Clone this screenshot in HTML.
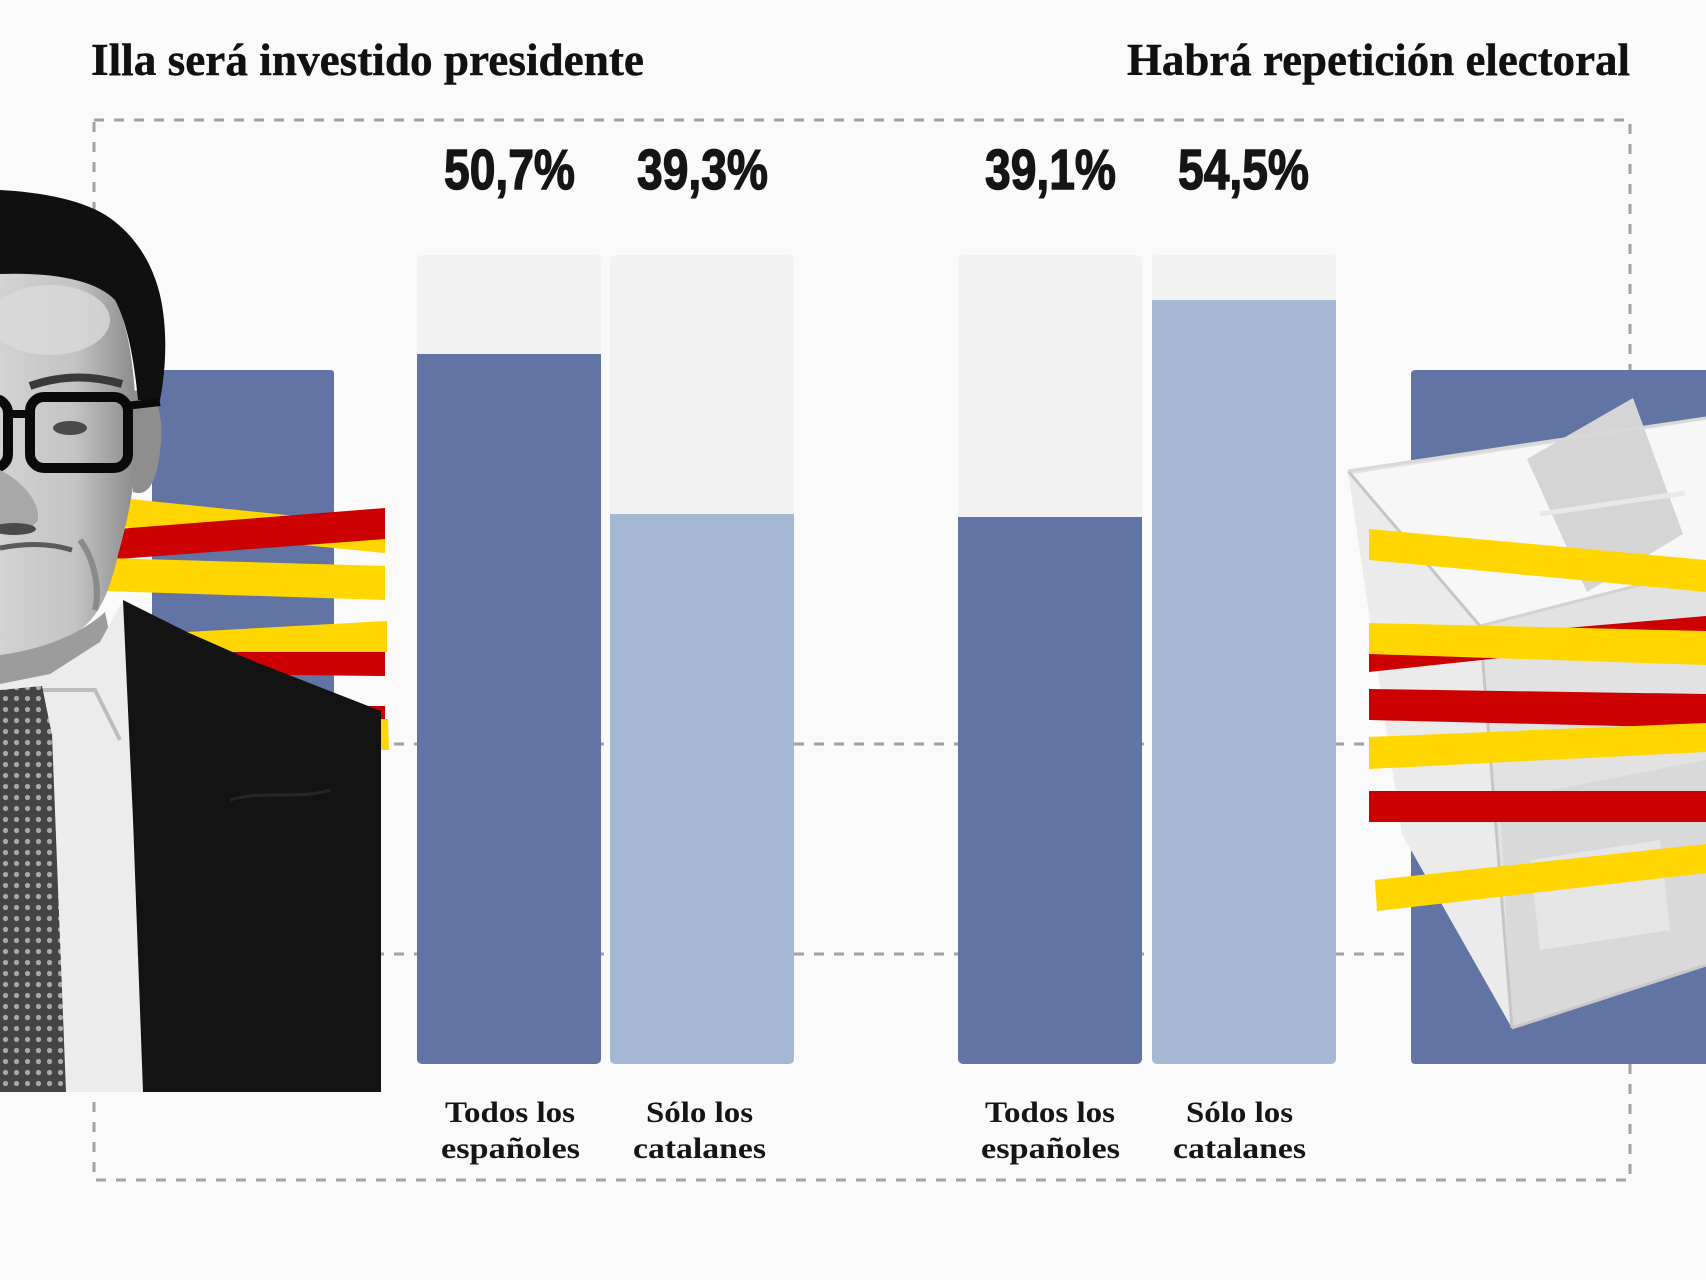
<!DOCTYPE html>
<html>
<head>
<meta charset="utf-8">
<style>
  html, body { margin:0; padding:0; background:#fafafa; }
  svg { display:block; }
  .ttl { font-family:"Liberation Serif", serif; font-weight:bold; fill:#111; stroke:#111; stroke-width:0.4; }
  .pct { font-family:"Liberation Sans", sans-serif; font-weight:bold; fill:#151515; stroke:#151515; stroke-width:1.4; }
  .lbl { font-family:"Liberation Serif", serif; font-weight:bold; fill:#151515; }
</style>
</head>
<body>
<svg width="1706" height="1280" viewBox="0 0 1706 1280" xmlns="http://www.w3.org/2000/svg">
  <defs>
    <clipPath id="cb1"><rect x="417" y="255" width="184" height="809" rx="5"/></clipPath>
    <clipPath id="cb2"><rect x="610" y="255" width="184" height="809" rx="5"/></clipPath>
    <clipPath id="cb3"><rect x="958" y="255" width="184" height="809" rx="5"/></clipPath>
    <clipPath id="cb4"><rect x="1152" y="255" width="184" height="809" rx="5"/></clipPath>
    <linearGradient id="faceg" x1="0" y1="0" x2="1" y2="0">
      <stop offset="0" stop-color="#d2d2d2"/>
      <stop offset="0.55" stop-color="#c4c4c4"/>
      <stop offset="1" stop-color="#8c8c8c"/>
    </linearGradient>
    <pattern id="tiep" x="0" y="0" width="11" height="11" patternUnits="userSpaceOnUse">
      <rect width="11" height="11" fill="#444"/>
      <circle cx="5.5" cy="5.5" r="2.6" fill="#a8a8a8"/>
    </pattern>
  </defs>

  <rect x="0" y="0" width="1706" height="1280" fill="#fafafa"/>

  <!-- titles -->
  <text class="ttl" x="91" y="75" font-size="45" textLength="553" lengthAdjust="spacingAndGlyphs">Illa será investido presidente</text>
  <text class="ttl" x="1127" y="75" font-size="45" textLength="503" lengthAdjust="spacingAndGlyphs">Habrá repetición electoral</text>

  <!-- dashed frame -->
  <rect x="94" y="120" width="1536" height="1060" fill="none" stroke="#a2a2a2" stroke-width="3" stroke-dasharray="10 10"/>
  <line x1="94" y1="744" x2="1630" y2="744" stroke="#a2a2a2" stroke-width="3" stroke-dasharray="10 10"/>
  <line x1="94" y1="954" x2="1630" y2="954" stroke="#a2a2a2" stroke-width="3" stroke-dasharray="10 10"/>

  <!-- bars -->
  <g clip-path="url(#cb1)">
    <rect x="417" y="255" width="184" height="809" fill="#f2f2f2"/>
    <rect x="417" y="354" width="184" height="710" fill="#6274a3"/>
  </g>
  <g clip-path="url(#cb2)">
    <rect x="610" y="255" width="184" height="809" fill="#f2f2f2"/>
    <rect x="610" y="514" width="184" height="550" fill="#a4b8d3"/>
  </g>
  <g clip-path="url(#cb3)">
    <rect x="958" y="255" width="184" height="809" fill="#f2f2f2"/>
    <rect x="958" y="517" width="184" height="547" fill="#6274a3"/>
  </g>
  <g clip-path="url(#cb4)">
    <rect x="1152" y="255" width="184" height="809" fill="#f2f2f2"/>
    <rect x="1152" y="300" width="184" height="764" fill="#a4b8d3"/>
  </g>

  <!-- percentages -->
  <text class="pct" x="444" y="189" font-size="57" textLength="131" lengthAdjust="spacingAndGlyphs">50,7%</text>
  <text class="pct" x="637" y="189" font-size="57" textLength="131" lengthAdjust="spacingAndGlyphs">39,3%</text>
  <text class="pct" x="985" y="189" font-size="57" textLength="131" lengthAdjust="spacingAndGlyphs">39,1%</text>
  <text class="pct" x="1178" y="189" font-size="57" textLength="131" lengthAdjust="spacingAndGlyphs">54,5%</text>

  <!-- bar labels -->
  <text class="lbl" x="445" y="1122" font-size="30" textLength="130" lengthAdjust="spacingAndGlyphs">Todos los</text>
  <text class="lbl" x="441" y="1158" font-size="30" textLength="139" lengthAdjust="spacingAndGlyphs">españoles</text>
  <text class="lbl" x="646" y="1122" font-size="30" textLength="107" lengthAdjust="spacingAndGlyphs">Sólo los</text>
  <text class="lbl" x="633" y="1158" font-size="30" textLength="133" lengthAdjust="spacingAndGlyphs">catalanes</text>
  <text class="lbl" x="985" y="1122" font-size="30" textLength="130" lengthAdjust="spacingAndGlyphs">Todos los</text>
  <text class="lbl" x="981" y="1158" font-size="30" textLength="139" lengthAdjust="spacingAndGlyphs">españoles</text>
  <text class="lbl" x="1186" y="1122" font-size="30" textLength="107" lengthAdjust="spacingAndGlyphs">Sólo los</text>
  <text class="lbl" x="1173" y="1158" font-size="30" textLength="133" lengthAdjust="spacingAndGlyphs">catalanes</text>

  <!-- LEFT: blue rect + stripes + portrait -->
  <rect x="152" y="370" width="182" height="694" rx="3" fill="#6274a3"/>
  <polygon points="110,497 385,525 385,553 110,526" fill="#ffd600"/>
  <polygon points="105,530 385,508 385,539 105,560" fill="#cc0000"/>
  <polygon points="105,558 385,566 385,600 105,591" fill="#ffd600"/>
  <polygon points="150,634 387,621 387,652 150,654" fill="#ffd600"/>
  <polygon points="200,652 385,652 385,676 200,674" fill="#cc0000"/>
  <polygon points="300,706 385,706 385,720 300,720" fill="#cc0000"/>
  <polygon points="300,719 388,719 389,750 300,750" fill="#ffd600"/>

  <!-- face -->
  <path d="M0,272 C40,268 90,276 112,295 C125,315 132,350 135,395 L135,470 C132,500 125,530 118,555 C110,590 100,615 80,630 C55,645 25,652 0,655 Z" fill="url(#faceg)"/>
  <ellipse cx="50" cy="320" rx="60" ry="35" fill="#dadada" opacity="0.8"/>
  <!-- ear -->
  <path d="M133,392 C150,382 164,405 161,442 C158,478 150,498 133,492 Z" fill="#8e8e8e"/>
  <!-- hair -->
  <path d="M0,190 C40,192 85,200 110,218 C135,236 152,262 160,295 C168,330 166,370 160,400 L138,400 C134,360 128,325 115,300 C98,282 60,272 0,274 Z" fill="#101010"/>
  <!-- eyebrow -->
  <path d="M30,386 Q75,370 122,384" fill="none" stroke="#3a3a3a" stroke-width="8"/>
  <!-- eye -->
  <ellipse cx="70" cy="428" rx="17" ry="7" fill="#4a4a4a"/>
  <!-- glasses -->
  <rect x="30" y="397" width="98" height="71" rx="14" fill="none" stroke="#0a0a0a" stroke-width="10"/>
  <rect x="-80" y="399" width="88" height="69" rx="14" fill="none" stroke="#0a0a0a" stroke-width="10"/>
  <line x1="8" y1="414" x2="30" y2="414" stroke="#0a0a0a" stroke-width="8"/>
  <line x1="126" y1="406" x2="160" y2="402" stroke="#0a0a0a" stroke-width="8"/>
  <!-- nose & mouth -->
  <path d="M0,470 C20,480 40,500 38,520 C30,532 10,534 0,532 Z" fill="#a8a8a8"/>
  <ellipse cx="14" cy="529" rx="22" ry="6" fill="#4a4a4a"/>
  <path d="M0,548 Q40,540 72,550" fill="none" stroke="#5a5a5a" stroke-width="5"/>
  <path d="M80,540 C95,560 100,590 95,610" fill="none" stroke="#8a8a8a" stroke-width="6"/>
  <!-- neck shadow -->
  <path d="M0,655 C40,650 80,635 105,612 L112,645 C90,682 40,692 0,694 Z" fill="#9c9c9c"/>
  <!-- shirt -->
  <polygon points="0,684 50,674 100,642 123,600 128,700 143,1092 0,1092" fill="#ececec"/>
  <path d="M40,690 L95,690 L120,740" fill="none" stroke="#bdbdbd" stroke-width="4"/>
  <!-- tie -->
  <polygon points="0,690 42,686 52,735 66,1092 0,1092" fill="url(#tiep)"/>
  <!-- suit -->
  <polygon points="123,600 187,632 253,661 381,711 381,1092 143,1092 133,820" fill="#131313"/>
  <path d="M230,800 C260,790 300,800 330,790" fill="none" stroke="#262626" stroke-width="3"/>

  <!-- RIGHT: blue rect + ballot box + stripes -->
  <rect x="1411" y="370" width="310" height="694" rx="4" fill="#6274a3"/>
  <polygon points="1348,471 1706,418 1706,965 1512,1028 1402,834" fill="#e2e2e2"/>
  <polygon points="1352,474 1706,420 1706,566 1480,626" fill="#f7f7f7"/>
  <polygon points="1527,459 1633,398 1683,534 1587,592" fill="#d5d5d5"/>
  <line x1="1540" y1="514" x2="1685" y2="493" stroke="#e8e8e8" stroke-width="5"/>
  <polygon points="1348,471 1480,626 1512,1028 1402,834" fill="#ebebeb"/>
  <polygon points="1500,800 1706,760 1706,965 1512,1028" fill="#d9d9d9"/>
  <polygon points="1530,860 1660,840 1670,930 1540,950" fill="#e6e6e6"/>
  <polyline points="1348,471 1480,626 1512,1028" fill="none" stroke="#c6c6c6" stroke-width="3"/>
  <line x1="1480" y1="626" x2="1706" y2="568" stroke="#d2d2d2" stroke-width="3"/>
  <line x1="1348" y1="471" x2="1706" y2="418" stroke="#d8d8d8" stroke-width="3"/>
  <line x1="1512" y1="1028" x2="1706" y2="965" stroke="#c8c8c8" stroke-width="3"/>

  <polygon points="1369,529 1706,560 1706,592 1369,560" fill="#ffd600"/>
  <polygon points="1369,645 1706,616 1706,636 1369,672" fill="#cc0000"/>
  <polygon points="1369,623 1706,631 1706,665 1369,654" fill="#ffd600"/>
  <polygon points="1369,689 1706,694 1706,728 1369,720" fill="#cc0000"/>
  <polygon points="1369,737 1706,723 1706,752 1369,769" fill="#ffd600"/>
  <polygon points="1369,791 1706,791 1706,822 1369,822" fill="#cc0000"/>
  <polygon points="1375,880 1706,844 1706,873 1377,911" fill="#ffd600"/>
</svg>
</body>
</html>
